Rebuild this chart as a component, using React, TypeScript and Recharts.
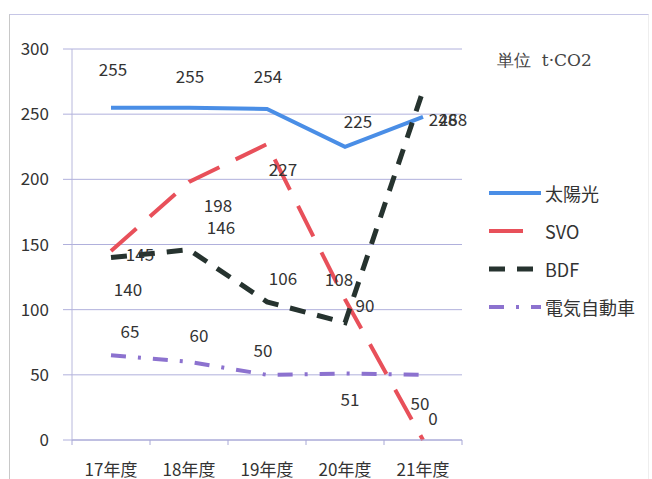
import { LineChart, Line, XAxis, YAxis, CartesianGrid, LabelList, Legend } from "recharts";

const years = ["17年度", "18年度", "19年度", "20年度", "21年度"];
const solar = [255, 255, 254, 225, 248];
const svo = [145, 198, 227, 108, 0];
const bdf = [140, 146, 106, 90, 268];
const ev = [65, 60, 50, 51, 50];
const yTicks = [0, 50, 100, 150, 200, 250, 300];

// label nudges (dx, dy) per point, the scan has them scattered around
const solarLabelPos = [[2, -39], [1, -32], [1, -33], [13, -26], [20, 2]];
const svoLabelPos = [[29, 2], [29, 23], [16, 24], [-6, -21], [10, -23]];
const bdfLabelPos = [[17, 31], [32, -23], [16, -24], [20, -18], [30, 28]];
const evLabelPos = [[19, -25], [10, -27], [-4, -25], [5, 25], [-3, 28]];

const FONT = '"Noto Sans CJK JP", "Noto Sans", sans-serif';

const series = [
  { key: "solar", name: "太陽光", color: "#4a8ee6", dash: undefined, width: 4 },
  { key: "svo", name: "SVO", color: "#e8505a", dash: "34 18", width: 4 },
  { key: "bdf", name: "BDF", color: "#26332f", dash: "16 12", width: 5 },
  { key: "ev", name: "電気自動車", color: "#8c72cf", dash: "15 12 3 12", width: 4 },
];

const data = years.map((year, i) => ({
  year,
  solar: solar[i],
  svo: svo[i],
  bdf: bdf[i],
  ev: ev[i],
}));

const makeLabel = (pos: number[][]) => (props: any) => {
  const { x, y, value, index } = props;
  const [dx, dy] = pos[index] ?? [0, -14];
  return (
    <text
      x={x + dx}
      y={y + dy}
      textAnchor="middle"
      dominantBaseline="central"
      fontSize={17}
      fill="#333"
      fontFamily={FONT}
    >
      {value}
    </text>
  );
};

const HALF = 39;

function YearTick({ x, y, payload, index }: any) {
  return (
    <g>
      <line x1={x - HALF} x2={x - HALF} y1={y} y2={y + 5} stroke="#a8a8d6" />
      {index === years.length - 1 && (
        <line x1={x + HALF} x2={x + HALF} y1={y} y2={y + 5} stroke="#a8a8d6" />
      )}
      <text
        x={x}
        y={y + 28}
        textAnchor="middle"
        dominantBaseline="central"
        fontSize={17}
        fill="#333"
        fontFamily={FONT}
      >
        {payload.value}
      </text>
    </g>
  );
}

function LegendBox() {
  return (
    <div style={{ fontFamily: FONT, fontSize: 18, color: "#333" }}>
      {series.map((s) => (
        <div key={s.key} style={{ display: "flex", alignItems: "center", height: 38 }}>
          <svg width={54} height={10} style={{ marginRight: 3 }}>
            <line
              x1={1}
              x2={53}
              y1={5}
              y2={5}
              stroke={s.color}
              strokeWidth={s.width}
              strokeDasharray={s.dash}
            />
          </svg>
          <span>{s.name}</span>
        </div>
      ))}
    </div>
  );
}

export default function App() {
  return (
    <div style={{ position: "absolute", left: 0, top: 0, width: 652, height: 479, background: "#fff" }}>
      <div
        style={{
          position: "absolute",
          left: 9,
          top: 14,
          right: 3,
          bottom: 0,
          borderTop: "1px solid #c6c6e6",
          borderLeft: "1px solid #c8c8c8",
          borderRight: "1px solid #eeeeee",
        }}
      />
      <div
        style={{
          position: "absolute",
          left: 497,
          top: 49,
          fontFamily: '"DejaVu Serif", "Liberation Serif", serif',
          fontSize: 17,
          color: "#444",
        }}
      >
        単位&nbsp;&nbsp;t·CO2
      </div>
      <LineChart
        width={652}
        height={479}
        data={data}
        margin={{ top: 49, right: 190, bottom: 9, left: 12 }}
        style={{ position: "absolute", left: 0, top: 0 }}
      >
        <CartesianGrid horizontal vertical={false} stroke="#b0b0dc" />
        <XAxis
          dataKey="year"
          padding={{ left: HALF, right: HALF }}
          axisLine={{ stroke: "#a8a8d6" }}
          tickLine={false}
          tickSize={0}
          tickMargin={0}
          height={30}
          interval={0}
          tick={<YearTick />}
        />
        <YAxis
          domain={[0, 300]}
          ticks={yTicks}
          width={60}
          axisLine={{ stroke: "#b8b8dc" }}
          tickLine={{ stroke: "#b0b0dc" }}
          tickSize={9}
          tickMargin={14}
          tick={{ fontSize: 17, fill: "#333", fontFamily: FONT }}
        />
        <Legend
          layout="vertical"
          align="center"
          verticalAlign="middle"
          wrapperStyle={{ left: 488, top: 174, width: 164 }}
          content={<LegendBox />}
        />
        <Line
          dataKey="solar"
          name="太陽光"
          stroke="#4a8ee6"
          strokeWidth={4}
          dot={false}
          isAnimationActive={false}
        >
          <LabelList dataKey="solar" content={makeLabel(solarLabelPos)} />
        </Line>
        <Line
          dataKey="svo"
          name="SVO"
          stroke="#e8505a"
          strokeWidth={4}
          strokeDasharray="34 18"
          dot={false}
          isAnimationActive={false}
        >
          <LabelList dataKey="svo" content={makeLabel(svoLabelPos)} />
        </Line>
        <Line
          dataKey="bdf"
          name="BDF"
          stroke="#26332f"
          strokeWidth={5}
          strokeDasharray="16 12"
          dot={false}
          isAnimationActive={false}
        >
          <LabelList dataKey="bdf" content={makeLabel(bdfLabelPos)} />
        </Line>
        <Line
          dataKey="ev"
          name="電気自動車"
          stroke="#8c72cf"
          strokeWidth={4}
          strokeDasharray="15 12 3 12"
          dot={false}
          isAnimationActive={false}
        >
          <LabelList dataKey="ev" content={makeLabel(evLabelPos)} />
        </Line>
      </LineChart>
    </div>
  );
}
